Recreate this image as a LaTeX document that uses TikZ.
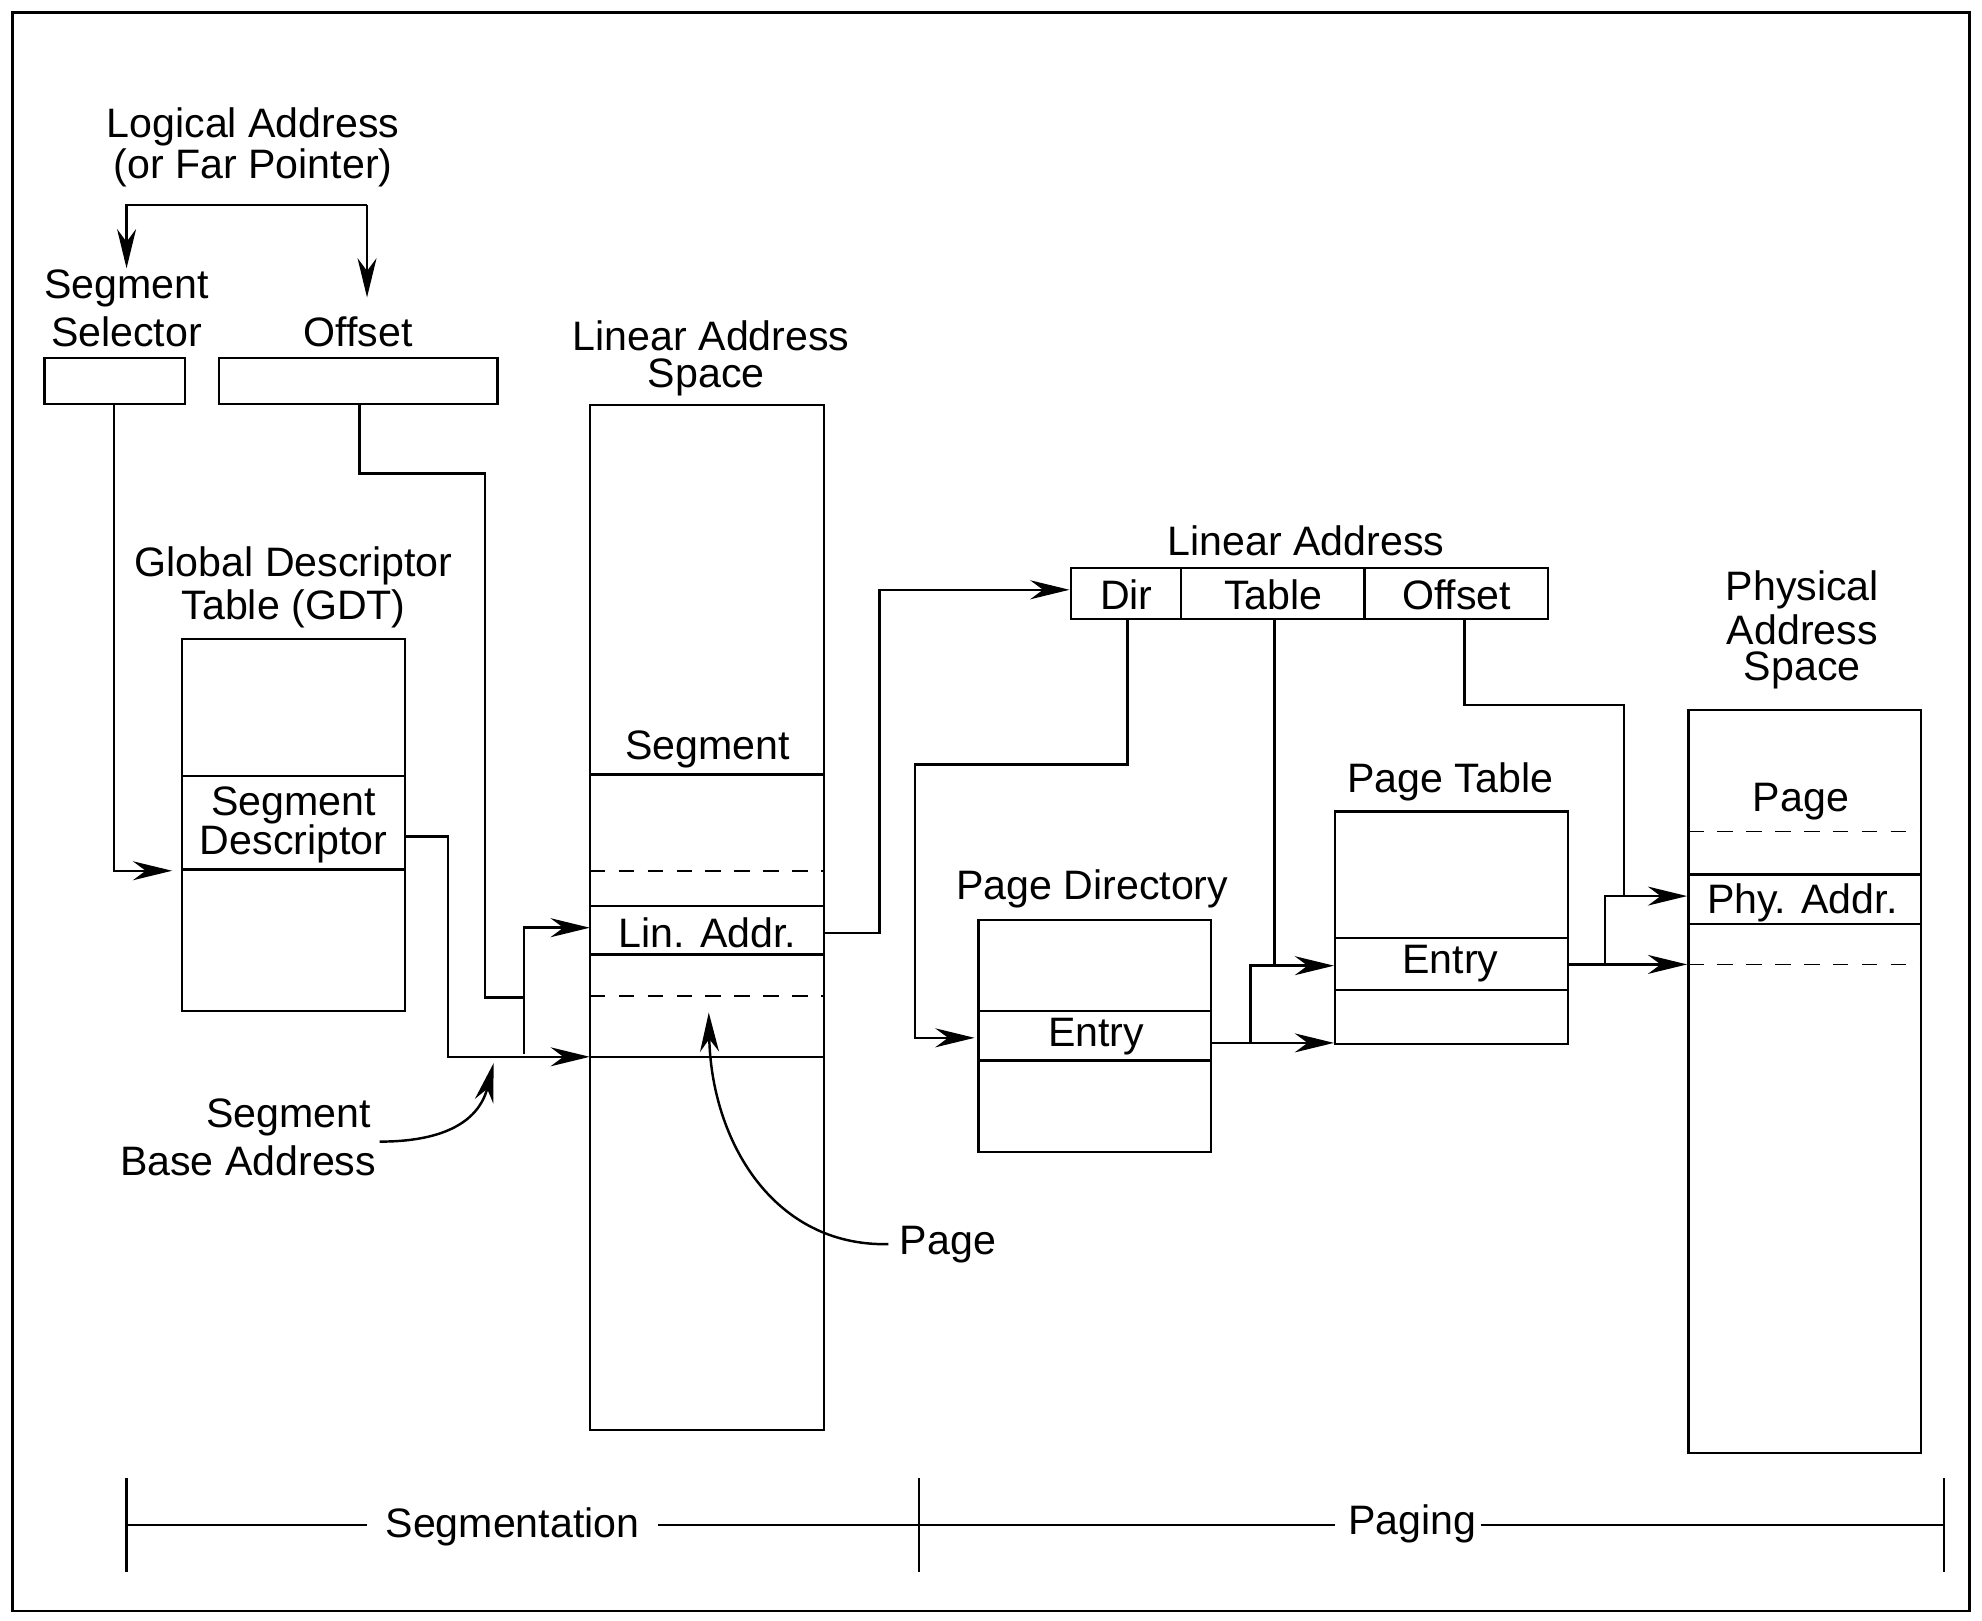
\documentclass[tikz,border=0pt]{standalone}
\usepackage{fontspec}
\setmainfont{Liberation Sans}
\usetikzlibrary{arrows.meta}
\begin{document}
\begin{tikzpicture}[x=0.02cm,y=-0.02cm,line width=1.1pt,
  lbl/.style={inner sep=0pt,font=\fontsize{18.5}{20}\selectfont},
  arr/.style={-{Stealth[length=0.62cm,width=0.3cm]}},
  dsh/.style={dash pattern=on 7pt off 6pt,line width=0.8pt}]
\useasboundingbox (0,0) rectangle (1566,1280);
\draw (10,10) rectangle (1556,1273);
% logical address
\node[lbl] (la1) at (200,100) {Logical Address};
\node[lbl] (la2) at (200,133) {(or Far Pointer)};
\coordinate (lL) at (100,162); \coordinate (lR) at (290,162);
\draw[arr] (lR) -- (lL) -- (100,212);
\draw[arr] (lR) -- (290,235);
\node[lbl] (ss1) at (100,228) {Segment};
\node[lbl] (ss2) at (100,262) {Selector};
\node[lbl] (off) at (283,262) {Offset};
\draw (35,283) rectangle (146,319);
\draw (173,283) rectangle (393,319);
% GDT
\node[lbl] (g1) at (232,447) {Global Descriptor};
\node[lbl] (g2) at (232,481) {Table (GDT)};
\draw (144,505) rectangle (320,799);
\draw (144,613) -- (320,613) (144,687) -- (320,687);
\node[lbl] (sd1) at (232,636) {Segment};
\node[lbl] (sd2) at (232,667) {Descriptor};
\draw[arr] (90,319) -- (90,688) -- (136,688);
\draw[arr] (320,661) -- (354,661) -- (354,835) -- (466,835);
\draw (284,319) -- (284,374) -- (383,374) -- (383,788) -- (414,788);
\draw[arr] (414,833) -- (414,733) -- (466,733);
% linear address space
\node[lbl] (las1) at (562,265) {Linear Address};
\node[lbl] (las2) at (558,298) {Space};
\draw (466,320) rectangle (651,1130);
\draw (466,612) -- (651,612) (466,716) -- (651,716) (466,754) -- (651,754) (466,835) -- (651,835);
\draw[dsh] (466,688) -- (651,688) (466,787) -- (651,787);
\node[lbl] (seg) at (559,592) {Segment};
\node[lbl] (lin) at (559,737) {Lin. Addr.};
\draw[arr] (651,737) -- (695,737) -- (695,466) -- (845,466);
% linear address
\node[lbl] (lat) at (1032,427) {Linear Address};
\draw (846,449) rectangle (1223,489);
\draw (933,449) -- (933,489) (1078,449) -- (1078,489);
\node[lbl] at (890,470) {Dir};
\node[lbl] at (1006,470) {Table};
\node[lbl] at (1151,470) {Offset};
\draw[arr] (891,489) -- (891,604) -- (723,604) -- (723,820) -- (770,820);
% page directory
\node[lbl] (pd) at (863,702) {Page Directory};
\draw (773,727) rectangle (957,910);
\draw (773,799) -- (957,799) (773,838) -- (957,838);
\node[lbl] at (866,819) {Entry};
\draw[arr] (957,824) -- (1054,824);
\draw[arr] (988,824) -- (988,763) -- (1054,763);
\draw (1007,489) -- (1007,763);
% page table
\node[lbl] (pt) at (1146,618) {Page Table};
\draw (1055,641) rectangle (1239,825);
\draw (1055,741) -- (1239,741) (1055,782) -- (1239,782);
\node[lbl] at (1146,761) {Entry};
\draw (1157,489) -- (1157,557) -- (1283,557) -- (1283,708);
\draw[arr] (1268,762) -- (1268,708) -- (1333,708);
\draw[arr] (1239,762) -- (1333,762);
% physical
\node[lbl] at (1424,466) {Physical};
\node[lbl] at (1424,498) {Address};
\node[lbl] at (1424,530) {Space};
\draw (1334,561) rectangle (1518,1148);
\draw (1334,691) -- (1518,691) (1334,730) -- (1518,730);
\draw[dsh] (1334,657) -- (1518,657) (1334,762) -- (1518,762);
\node[lbl] at (1423,633) {Page};
\node[lbl] at (1424,713) {Phy. Addr.};
% annotations
\node[lbl] (sb1) at (228,883) {Segment};
\node[lbl] (sb2) at (196,917) {Base Address};
\draw[arr] (300,902) .. controls (360,902) and (380,880) .. (390,840);
\node[lbl] (pg) at (749,983) {Page};
\draw[arr] (702,983) .. controls (610,985) and (562,900) .. (560,800);
% bottom
\draw (100,1168) -- (100,1242) (726,1168) -- (726,1242) (1536,1168) -- (1536,1242);
\node[lbl] (sgm) at (405,1206) {Segmentation};
\node[lbl] (pgn) at (1116,1204) {Paging};
\draw (100,1205) -- (290,1205) (520,1205) -- (726,1205) -- (1055,1205) (1170,1205) -- (1536,1205);
\end{tikzpicture}
\end{document}
